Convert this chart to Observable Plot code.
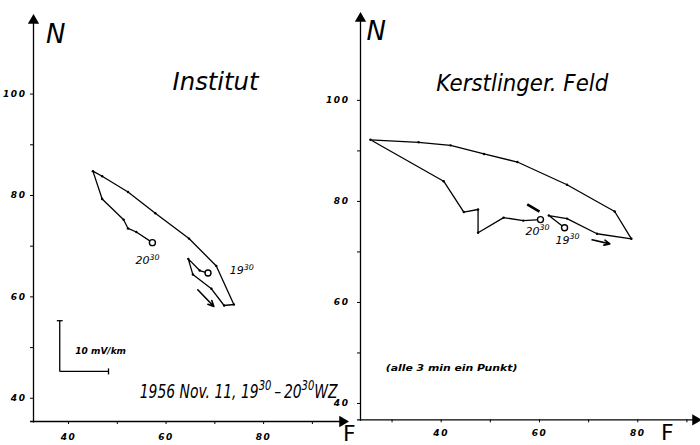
<!DOCTYPE html>
<html><head><meta charset="utf-8">
<script src="https://cdn.jsdelivr.net/npm/d3@7"></script>
<script src="https://cdn.jsdelivr.net/npm/@observablehq/plot@0.6"></script>
<style>
body{margin:0;background:#fff;}
#wrap{position:relative;width:700px;height:445px;overflow:hidden;background:#fff;}
#wrap svg{position:absolute;top:0;}
#wrap g[aria-label$="tick label"] text{letter-spacing:1.6px;}
</style></head><body><div id="wrap"></div>
<script>
// ---- data: Institut (path order, one point every 3 min, 19:30 -> 20:30)
const instF = [68.6, 66.9, 64.55, 65.5, 69.3, 71.9, 73.9, 70.3, 64.7, 57.8, 52.2, 46.9, 45.0, 46.9, 51.3, 52.2, 53.9, 57.2];
const instN = [64.7, 65.2, 67.5, 64.4, 61.6, 58.3, 58.5, 66.1, 71.5, 76.5, 80.7, 83.8, 84.8, 79.3, 75.2, 73.5, 72.8, 70.7];
// ---- data: Kerstlinger Feld
const kerstF = [65.1, 61.9, 65.6, 71.7, 78.7, 75.3, 65.6, 55.5, 48.7, 41.9, 35.4, 25.6, 40.5, 44.6, 47.5, 47.5, 52.7, 56.7, 60.2];
const kerstN = [74.8, 77.2, 76.6, 73.6, 72.6, 78.0, 83.3, 87.8, 89.4, 91.1, 91.7, 92.2, 84.0, 77.9, 78.4, 73.8, 76.8, 76.2, 76.4];
// time labels
const timeText = ["19^30", "20^30"];
const instLabelF = [75.5, 56.2], instLabelN = [65.2, 67.2];
const kerstLabelF = [65.7, 59.6], kerstLabelN = [72.3, 74.1];
// direction arrows
const instArrow = {F1: 66.5, N1: 61.4, F2: 69.8, N2: 58.1};
const kerstArrow = {F1: 70.7, N1: 72.4, F2: 74.3, N2: 71.6};
const kerstStroke = {F1: 57.5, N1: 79.4, F2: 60.0, N2: 78.0};
// scale bar 10 mV/km
const scaleBar = {F: 38.2, N: 45.3, len: 10};
// ticks
const yTicks = [40, 50, 60, 70, 80, 90, 100];
const yLabels = [40, 60, 80, 100];
const leftXTicks = [40, 50, 60, 70, 80, 90];
const rightXTicks = [30, 40, 50, 60, 70, 80, 90];
const xLabels = [40, 60, 80];
// domains
const leftX = [32.82, 97.2], leftY = [35.42, 115.5];
const rightX = [23.58, 92.76], rightY = [36.77, 117.2];

const FONT = '"DejaVu Sans", "Liberation Sans", sans-serif';
const idx = a => d3.range(a.length);

function panel(o) {
  const [x0, x1] = o.xd, [y0, y1] = o.yd;
  return Plot.plot({
    width: o.width, height: 445,
    marginLeft: o.ml, marginRight: o.mr, marginTop: o.mt, marginBottom: o.mb,
    x: {domain: o.xd}, y: {domain: o.yd},
    style: {fontFamily: FONT, background: "none", overflow: "visible"},
    marks: [
      Plot.ruleX([x0], {y1: y0 - 0.3, y2: y1 - 1, stroke: "black", strokeWidth: 1.3}),
      Plot.ruleY([y0], {x1: x0 - 0.6, x2: x1 - 1, stroke: "black", strokeWidth: 1.3}),
      Plot.dot([0], {x: x0, y: y1, symbol: "triangle", r: 4.2, fill: "black", dy: 5}),
      Plot.dot([0], {x: x1, y: y0, symbol: "triangle", r: 4.2, fill: "black", dx: -5, rotate: 90}),
      Plot.axisY({ticks: yTicks, tickSize: 3, tickPadding: o.ytp, tickFormat: d => yLabels.includes(d) ? d : "",
        fontSize: 9, fontWeight: "bold", fontStyle: "italic"}),
      Plot.axisX({ticks: o.xt, tickSize: 3, tickPadding: o.xtp, tickFormat: d => xLabels.includes(d) ? d : "",
        fontSize: 9, fontWeight: "bold", fontStyle: "italic"}),
      Plot.line(idx(o.F), {x: i => o.F[i], y: i => o.N[i], stroke: "black", strokeWidth: 1.3, curve: "linear"}),
      Plot.dot(idx(o.F), {x: i => o.F[i], y: i => o.N[i], r: 1.2, fill: "black"}),
      Plot.dot([0, o.F.length - 1], {x: i => o.F[i], y: i => o.N[i], r: 3, fill: "white", stroke: "black", strokeWidth: 1.4}),
      Plot.text(idx(timeText), {x: i => o.lf[i], y: i => o.ln[i], text: i => timeText[i], fontSize: 11, fontStyle: "italic"}),
      Plot.arrow([o.arrow], {x1: "F1", y1: "N1", x2: "F2", y2: "N2", stroke: "black", strokeWidth: 1.6, headLength: 6, headAngle: 50}),
      Plot.text([o.title], {x: o.tx, y: o.ty, fontSize: o.tsize, fontStyle: "italic", className: "fit", ariaDescription: String(o.tlen)}),
      Plot.text(["N"], {x: o.nx, y: o.ny, fontSize: 26, fontStyle: "italic"}),
      Plot.text(["F"], {x: o.fx, y: o.fy, fontSize: 22}),
      ...o.extra
    ]
  });
}

const left = panel({
  width: 350, ml: 33, mr: 3, mt: 15, mb: 24, xd: leftX, yd: leftY,
  xt: leftXTicks, ytp: 4, xtp: 9,
  F: instF, N: instN, lf: instLabelF, ln: instLabelN, arrow: instArrow,
  title: "Institut", tx: 70.15, ty: 102.3, tsize: 24, tlen: 86,
  nx: 37.4, ny: 111.8, fx: 97.6, fy: 33.0,
  extra: [
    Plot.link([scaleBar], {x1: "F", y1: "N", x2: "F", y2: d => d.N + d.len, stroke: "black", strokeWidth: 1.3}),
    Plot.link([scaleBar], {x1: "F", y1: "N", x2: d => d.F + d.len, y2: "N", stroke: "black", strokeWidth: 1.3}),
    Plot.link([scaleBar], {x1: d => d.F - 0.6, y1: d => d.N + d.len, x2: d => d.F + 0.6, y2: d => d.N + d.len, stroke: "black", strokeWidth: 1.3}),
    Plot.link([scaleBar], {x1: d => d.F + d.len, y1: d => d.N - 0.6, x2: d => d.F + d.len, y2: d => d.N + 0.6, stroke: "black", strokeWidth: 1.3}),
    Plot.text(["10 mV/km"], {x: 41.4, y: 49.4, textAnchor: "start", fontSize: 9, fontWeight: "bold", fontStyle: "italic"}),
    Plot.text(["1956 Nov. 11, 19^30\u2009\u2013\u200920^30WZ"], {x: 54.6, y: 41.4, textAnchor: "start", fontSize: 20, fontStyle: "italic", className: "fit", ariaDescription: "198"})
  ]
});

const right = panel({
  width: 380, ml: 40, mr: 0, mt: 13, mb: 25.7, xd: rightX, yd: rightY,
  xt: rightXTicks, ytp: 8, xtp: 7,
  F: kerstF, N: kerstN, lf: kerstLabelF, ln: kerstLabelN, arrow: kerstArrow,
  title: "Kerstlinger. Feld", tx: 56.5, ty: 103.4, tsize: 23, tlen: 172,
  nx: 26.8, ny: 113.7, fx: 86.0, fy: 34.1,
  extra: [
    Plot.link([kerstStroke], {x1: "F1", y1: "N1", x2: "F2", y2: "N2", stroke: "black", strokeWidth: 2.6}),
    Plot.text(["(alle 3 min ein Punkt)"], {x: 28.7, y: 47.1, textAnchor: "start", fontSize: 9, fontWeight: "bold", fontStyle: "italic", className: "fit", ariaDescription: "132"})
  ]
});

left.style.left = "0px";
right.style.left = "320px";
const wrap = document.getElementById("wrap");
wrap.appendChild(left);
wrap.appendChild(right);

// superscripts: "^30" -> raised smaller text
d3.selectAll("#wrap svg text").each(function() {
  const t = this.textContent;
  if (!t.includes("^")) return;
  const parts = t.split(/(\^\d+)/).filter(s => s.length);
  const sel = d3.select(this);
  sel.text("");
  let raised = false;
  parts.forEach(p => {
    const sup = p.startsWith("^");
    const ts = sel.append("tspan").text(sup ? p.slice(1) : p);
    if (sup) { ts.attr("font-size", "72%").attr("dy", "-0.55em"); raised = true; }
    else if (raised) { ts.attr("dy", "0.4em"); raised = false; }
  });
});
// condense wide texts horizontally to the width of the original lettering
d3.selectAll("#wrap g.fit").each(function() {
  const g = d3.select(this);
  const target = +g.attr("aria-description");
  g.selectAll("text").each(function() {
    const w = this.getComputedTextLength();
    if (!(w > 0)) return;
    const s = target / w;
    const tr = this.getAttribute("transform") || "";
    this.setAttribute("transform", tr + ` scale(${s.toFixed(4)},1)`);
  });
});
</script></body></html>
